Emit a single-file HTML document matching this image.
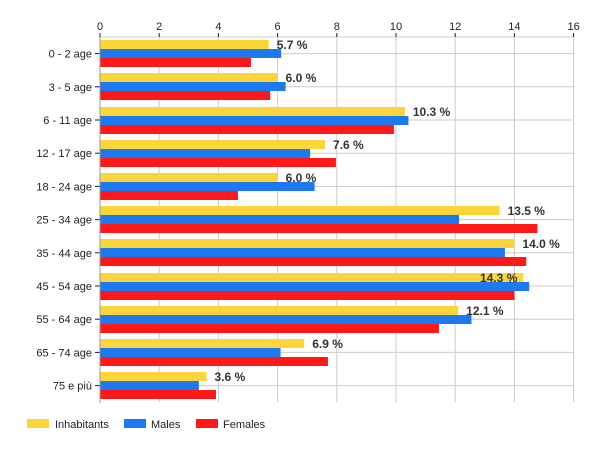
<!DOCTYPE html>
<html><head><meta charset="utf-8"><style>
body{margin:0;background:#fff;}
svg{display:block;font-family:"Liberation Sans",Arial,sans-serif;}
</style></head><body>
<svg width="600" height="450" viewBox="0 0 600 450" xmlns="http://www.w3.org/2000/svg">
<g id="grid" stroke="#cccccc" stroke-width="1"></g>
<g id="bars"></g>
<g id="labels" font-size="12" font-weight="bold" fill="#333"></g>
<g id="axes"></g>
<g font-size="11" fill="#222">
<rect x="27" y="419" width="22" height="9" fill="#FBD53A"/><text x="55" y="428">Inhabitants</text>
<rect x="124" y="419" width="22" height="9" fill="#1E78EE"/><text x="151" y="428">Males</text>
<rect x="196" y="419" width="22" height="9" fill="#FF1818"/><text x="223" y="428">Females</text>
</g>
</svg>
<script>
const ns="http://www.w3.org/2000/svg";
function el(p,t,a,txt){const e=document.createElementNS(ns,t);for(const k in a)e.setAttribute(k,a[k]);if(txt!==undefined)e.textContent=txt;document.getElementById(p).appendChild(e);return e;}
const X0=100,S=29.6,TOP=37,RH=33.2,BOT=TOP+11*RH;
const cats=["0 - 2 age","3 - 5 age","6 - 11 age","12 - 17 age","18 - 24 age","25 - 34 age","35 - 44 age","45 - 54 age","55 - 64 age","65 - 74 age","75 e più"];
const d=[[5.7,6.12,5.1],[6.0,6.27,5.75],[10.3,10.42,9.93],[7.6,7.1,7.97],[6.0,7.25,4.66],[13.5,12.13,14.78],[14.0,13.68,14.4],[14.3,14.5,14.0],[12.1,12.55,11.45],[6.9,6.1,7.7],[3.6,3.34,3.92]];
const cols=["#FBD53A","#1E78EE","#FF1818"];
for(let i=1;i<=8;i++){const x=X0+i*2*S;el("grid","line",{x1:x,y1:TOP,x2:x,y2:BOT});}
for(let r=0;r<11;r++){const c=TOP+r*RH+RH/2;el("grid","line",{x1:X0,y1:c,x2:X0+16*S,y2:c});}
el("grid","line",{x1:X0,y1:TOP,x2:X0+16*S,y2:TOP});
d.forEach((v,r)=>{const c=TOP+r*RH+RH/2;const y0=Math.round(c-13.5);
 v.forEach((val,k)=>el("bars","rect",{x:X0,y:y0+k*9,width:val*S,height:9,fill:cols[k]}));
 let lx=X0+v[0]*S+8; if(r==7) lx=480;
 el("labels","text",{x:lx,y:y0+9},v[0].toFixed(1)+" %");
 el("axes","text",{x:92,y:c+4,"text-anchor":"end","font-size":11,fill:"#222"},cats[r]);
 el("axes","line",{x1:95,y1:c,x2:100,y2:c,stroke:"#222"});
});
el("axes","line",{x1:X0,y1:TOP,x2:X0,y2:BOT+1,stroke:"#999"});
for(let i=0;i<=8;i++){const x=X0+i*2*S;el("axes","line",{x1:x,y1:TOP-4,x2:x,y2:TOP,stroke:"#222"});
 el("axes","text",{x:x,y:TOP-7,"text-anchor":"middle","font-size":11,fill:"#222"},String(i*2));}
</script>
</body></html>
